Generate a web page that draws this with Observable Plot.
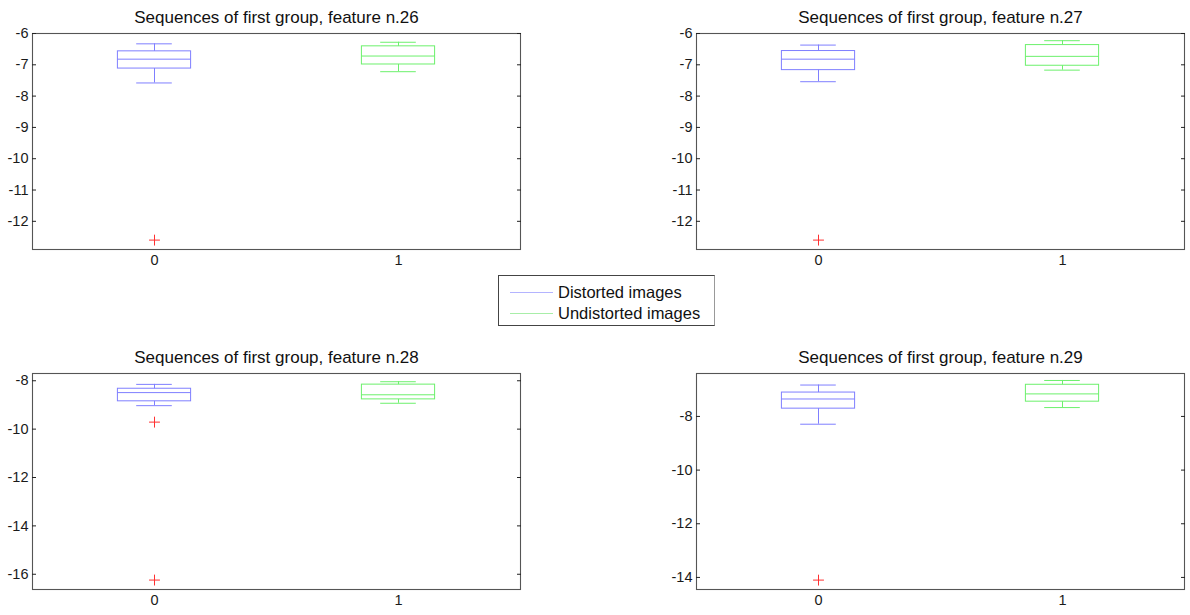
<!DOCTYPE html>
<html>
<head>
<meta charset="utf-8">
<script src="https://cdn.jsdelivr.net/npm/d3@7"></script>
<script src="https://cdn.jsdelivr.net/npm/@observablehq/plot@0.6"></script>
<style>
  html, body { margin: 0; padding: 0; background: #fff; }
  #root { position: relative; width: 1190px; height: 615px; overflow: hidden; font-family: "Liberation Sans", Arial, sans-serif; }
  .panel { position: absolute; }
  #legend { position: absolute; left: 498px; top: 275px; width: 215px; height: 49px; border: 1px solid #444; border-right-color: #999; background: #fff; }
  .lrow { position: absolute; left: 0; height: 20px; width: 100%; }
  .lline { position: absolute; left: 11px; width: 43px; top: 10px; height: 0; border-top: 1px solid; }
  .ltext { position: absolute; left: 59px; top: 0; font-size: 16.5px; line-height: 20px; color: #111; white-space: nowrap; }
</style>
</head>
<body>
<div id="root"></div>
<script>
// ---- data ----
const groups = ["0", "1"];
const seriesNames = ["Distorted images", "Undistorted images"];
const features = [26, 27, 28, 29];
const titlePrefix = "Sequences of first group, feature n.";
// per feature: [group 0, group 1]
const upperWhisker = [[-6.33, -6.28], [-6.37, -6.23], [-8.15, -8.04], [-6.83, -6.66]];
const upperQuartile = [[-6.57, -6.41], [-6.56, -6.37], [-8.33, -8.16], [-7.11, -6.82]];
const medians       = [[-6.82, -6.72], [-6.82, -6.73], [-8.49, -8.58], [-7.35, -7.16]];
const lowerQuartile = [[-7.12, -6.99], [-7.17, -7.03], [-8.85, -8.77], [-7.71, -7.45]];
const lowerWhisker  = [[-7.58, -7.22], [-7.54, -7.17], [-9.03, -8.93], [-8.29, -7.67]];
// outliers (all belong to group 0)
const outlierGroup  = [["0"], ["0"], ["0", "0"], ["0"]];
const outlierValues = [[-12.6], [-12.6], [-9.71, -16.24], [-14.1]];
// axes
const yTicks = [
  [-12, -11, -10, -9, -8, -7, -6],
  [-12, -11, -10, -9, -8, -7, -6],
  [-16, -14, -12, -10, -8],
  [-14, -12, -10, -8]
];
const yDomains = [[-12.9, -6.0], [-12.9, -6.0], [-16.63, -7.7], [-14.45, -6.4]];

// ---- styles / layout ----
const boxColors = ["#7f7fff", "#6cf06c"];
const legendColors = ["#b4b4ff", "#a8eea8"];
const outlierColor = "#ff3030";
const frameColor = "#555";
const layout = [
  {left: 0,   top: 0,   width: 530, height: 280, mL: 32, mR: 10, mT: 33, mB: 31},
  {left: 660, top: 0,   width: 530, height: 280, mL: 36, mR: 6,  mT: 33, mB: 31},
  {left: 0,   top: 340, width: 530, height: 275, mL: 32, mR: 10, mT: 33, mB: 26},
  {left: 660, top: 340, width: 530, height: 275, mL: 36, mR: 6,  mT: 33, mB: 26}
];

const root = document.getElementById("root");
const fmt = d => String(d);

features.forEach((f, i) => {
  const L = layout[i];
  const rows = groups.map((g, j) => ({
    group: g,
    color: boxColors[j],
    hi: upperWhisker[i][j],
    q3: upperQuartile[i][j],
    med: medians[i][j],
    q1: lowerQuartile[i][j],
    lo: lowerWhisker[i][j]
  }));
  const outs = outlierValues[i].map((v, k) => ({group: outlierGroup[i][k], value: v}));
  const step = (L.width - L.mL - L.mR) / groups.length;
  const boxInset = step * 0.35;
  const capInset = step * 0.427;

  const chart = Plot.plot({
    width: L.width,
    height: L.height,
    marginLeft: L.mL,
    marginRight: L.mR,
    marginTop: L.mT,
    marginBottom: L.mB,
    style: {
      fontFamily: "'Liberation Sans', Arial, sans-serif",
      fontSize: "14.5px",
      color: "#1a1a1a",
      background: "transparent",
      overflow: "visible"
    },
    x: {type: "band", domain: groups, padding: 0},
    y: {domain: yDomains[i]},
    marks: [
      Plot.frame({stroke: frameColor, strokeWidth: 1.1}),
      Plot.axisY(yTicks[i], {anchor: "left", tickSize: 0, tickPadding: 4, tickFormat: fmt, label: null}),
      Plot.axisY(yTicks[i], {anchor: "left", tickSize: 4, dx: 4, tickFormat: () => "", label: null, stroke: "#222"}),
      Plot.axisY(yTicks[i], {anchor: "right", tickSize: 4, dx: -4, tickFormat: () => "", label: null, stroke: "#222"}),
      Plot.axisX({anchor: "bottom", tickSize: 0, tickPadding: 5, label: null}),
      Plot.ruleX(rows, {x: "group", y1: "q3", y2: "hi", stroke: "color"}),
      Plot.ruleX(rows, {x: "group", y1: "lo", y2: "q1", stroke: "color"}),
      Plot.tickY(rows, {x: "group", y: "hi", stroke: "color", insetLeft: capInset, insetRight: capInset}),
      Plot.tickY(rows, {x: "group", y: "lo", stroke: "color", insetLeft: capInset, insetRight: capInset}),
      Plot.barY(rows, {x: "group", y1: "q1", y2: "q3", fill: "none", stroke: "color", insetLeft: boxInset, insetRight: boxInset}),
      Plot.tickY(rows, {x: "group", y: "med", stroke: "color", insetLeft: boxInset, insetRight: boxInset}),
      Plot.dot(outs, {x: "group", y: "value", symbol: "plus", stroke: outlierColor, r: 3.6, strokeWidth: 1}),
      Plot.text([titlePrefix + f], {frameAnchor: "top", dy: -11, lineAnchor: "bottom", fontSize: 17, fill: "#111"})
    ]
  });
  chart.classList.add("panel");
  chart.style.left = L.left + "px";
  chart.style.top = L.top + "px";
  root.appendChild(chart);
});

// legend
const legend = document.createElement("div");
legend.id = "legend";
seriesNames.forEach((name, j) => {
  const row = document.createElement("div");
  row.className = "lrow";
  row.style.top = (6 + j * 21) + "px";
  const line = document.createElement("div");
  line.className = "lline";
  line.style.borderTopColor = legendColors[j];
  const text = document.createElement("div");
  text.className = "ltext";
  text.textContent = name;
  row.appendChild(line);
  row.appendChild(text);
  legend.appendChild(row);
});
root.appendChild(legend);
</script>
</body>
</html>
